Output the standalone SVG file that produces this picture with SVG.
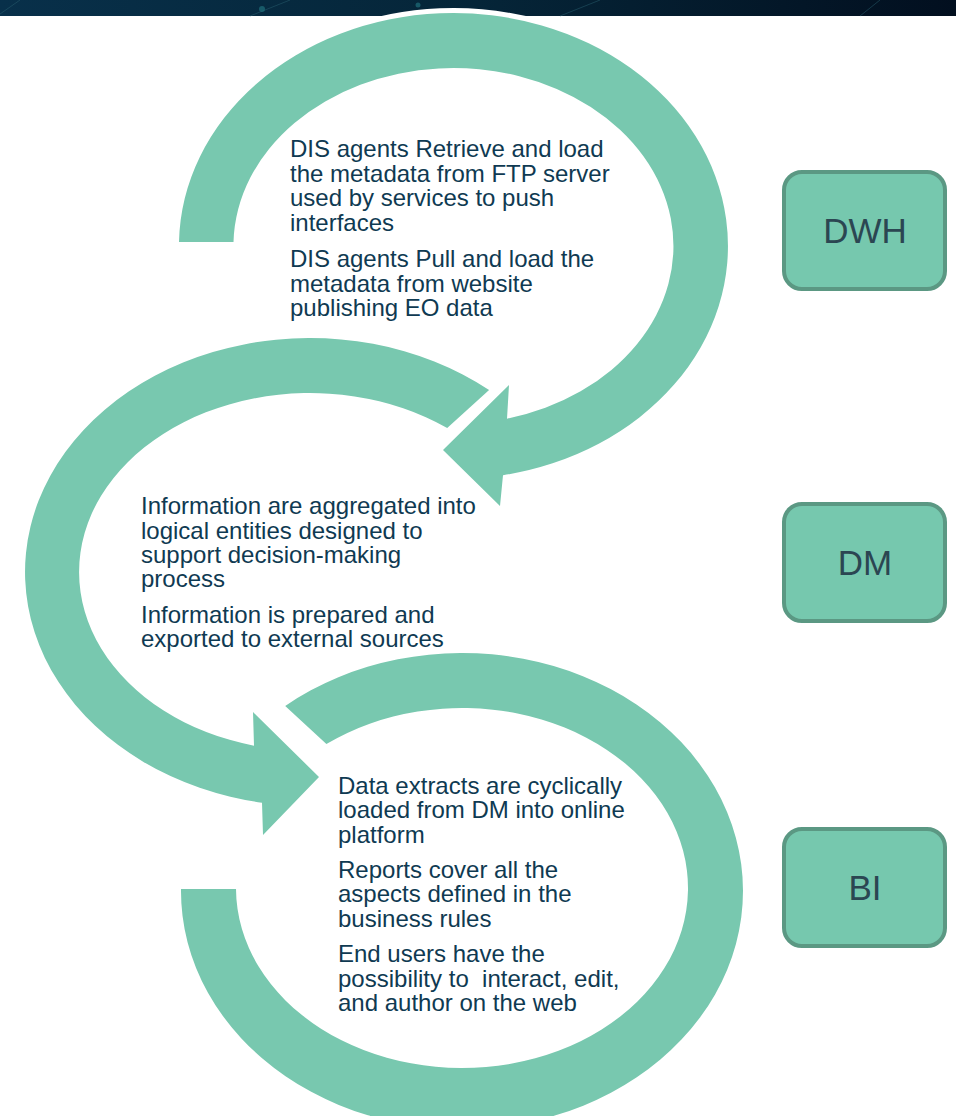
<svg xmlns="http://www.w3.org/2000/svg" width="956" height="1116" viewBox="0 0 956 1116">
<defs>
<linearGradient id="band" x1="0" y1="0" x2="1" y2="0">
<stop offset="0" stop-color="#08304a"/>
<stop offset="0.5" stop-color="#052538"/>
<stop offset="1" stop-color="#020f1f"/>
</linearGradient>
<style>
.arc{fill:#78c8af}
.box{fill:#76c8ae;stroke:#5b9883;stroke-width:4}
.lbl{font-family:"Liberation Sans",Arial,sans-serif;font-size:35px;fill:#2b4652;text-anchor:middle}
.txt{font-family:"Liberation Sans",Arial,sans-serif;font-size:24px;fill:#0f3a52}
</style>
</defs>
<rect width="956" height="1116" fill="#ffffff"/>
<g id="band-top">
<rect x="0" y="0" width="956" height="16" fill="url(#band)"/>
<path d="M0,14 L20,0 M250,16 L290,0 M560,16 L600,0 M860,16 L880,0" stroke="#2a6070" stroke-width="1" opacity="0.5" fill="none"/>
<circle cx="262" cy="9" r="3" fill="#1f6f7a" opacity="0.7"/>
<circle cx="418" cy="5" r="2.5" fill="#1f6f7a" opacity="0.7"/>
</g>
<g id="connectors">
<path id="arc3" class="arc" d="M285.2,706 A281,238 0 1 1 181,889 L236,889 A226,180 0 1 0 326.4,744 Z"/>
<path id="arc2" class="arc" d="M489.1,390 A285,234 0 1 0 262,802.7 L263,835 L319,777 L253,712 L254,745.7 A231,179 0 1 1 447.2,428 Z"/>
<path id="arc1" class="arc" stroke="#ffffff" stroke-width="10" paint-order="stroke" stroke-linejoin="miter" d="M179,242 A274.5,233 0 1 1 503,475.2 L500,506 L443,450 L509,385 L507,418.7 A220,178 0 1 0 233.5,242 Z"/>
</g>
<g id="text-dwh">
<text class="txt" x="290" y="157">DIS agents Retrieve and load</text>
<text class="txt" x="290" y="181.5">the metadata from FTP server</text>
<text class="txt" x="290" y="206">used by services to push</text>
<text class="txt" x="290" y="230.5">interfaces</text>
<text class="txt" x="290" y="267">DIS agents Pull and load the</text>
<text class="txt" x="290" y="291.5">metadata from website</text>
<text class="txt" x="290" y="316">publishing EO data</text>
</g>
<g id="text-dm">
<text class="txt" x="141" y="514">Information are aggregated into</text>
<text class="txt" x="141" y="538.5">logical entities designed to</text>
<text class="txt" x="141" y="563">support decision-making</text>
<text class="txt" x="141" y="587">process</text>
<text class="txt" x="141" y="623">Information is prepared and</text>
<text class="txt" x="141" y="647">exported to external sources</text>
</g>
<g id="text-bi">
<text class="txt" x="338" y="794">Data extracts are cyclically</text>
<text class="txt" x="338" y="818">loaded from DM into online</text>
<text class="txt" x="338" y="842.5">platform</text>
<text class="txt" x="338" y="877.5">Reports cover all the</text>
<text class="txt" x="338" y="902">aspects defined in the</text>
<text class="txt" x="338" y="926.5">business rules</text>
<text class="txt" x="338" y="962">End users have the</text>
<text class="txt" x="338" y="986.5" xml:space="preserve">possibility to  interact, edit,</text>
<text class="txt" x="338" y="1011">and author on the web</text>
</g>
<g id="node-dwh">
<rect class="box" x="784" y="172" width="161" height="117" rx="18"/>
<text class="lbl" x="865" y="243">DWH</text>
</g>
<g id="node-dm">
<rect class="box" x="784" y="504" width="161" height="117" rx="18"/>
<text class="lbl" x="865" y="575">DM</text>
</g>
<g id="node-bi">
<rect class="box" x="784" y="829" width="161" height="117" rx="18"/>
<text class="lbl" x="865" y="900">BI</text>
</g>
</svg>
